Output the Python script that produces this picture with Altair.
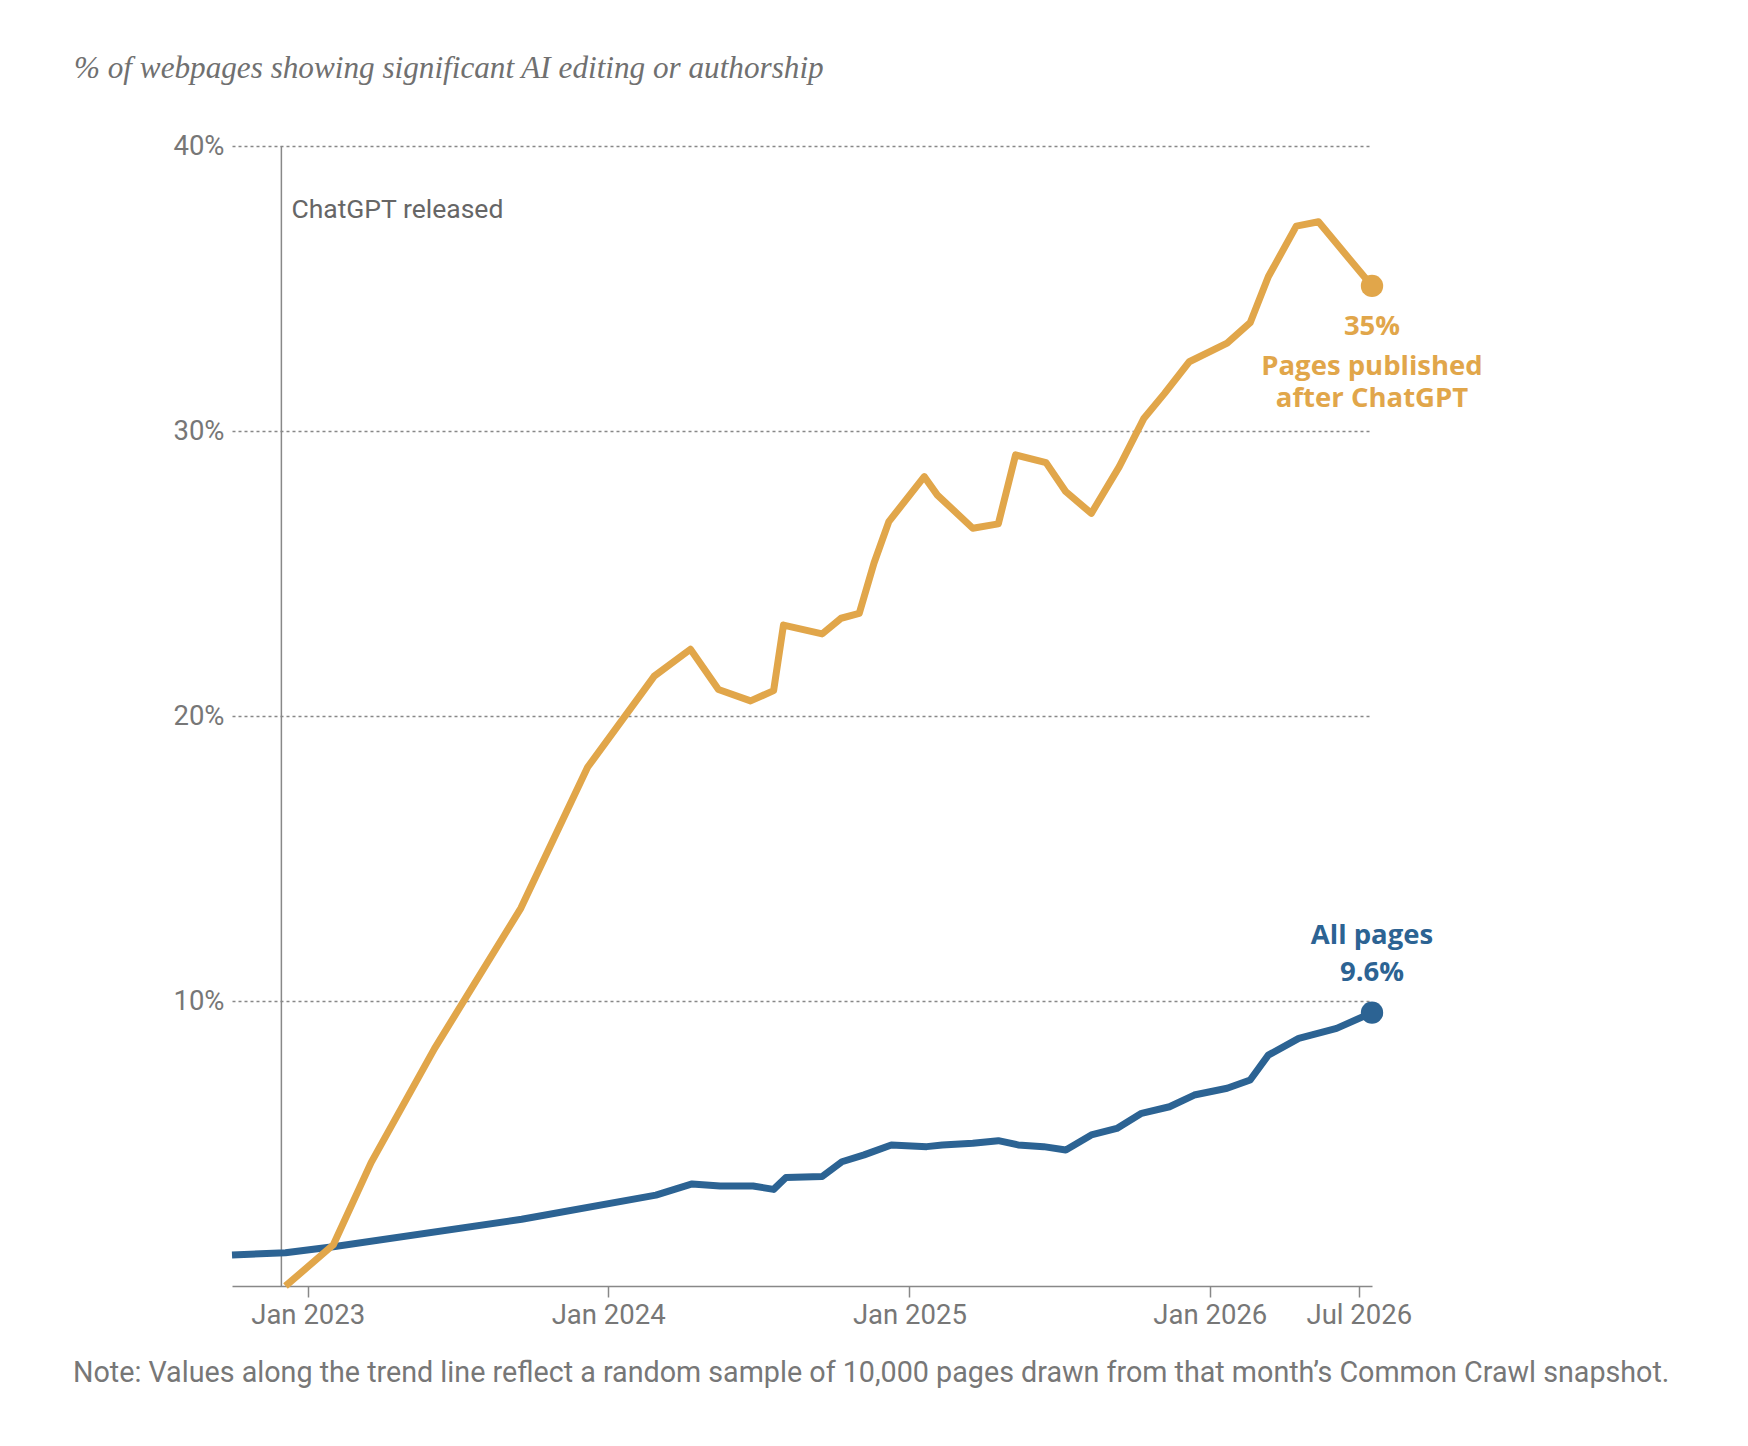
import altair as alt
import pandas as pd

title_text = "% of webpages showing significant AI editing or authorship"
note_text = ("Note: Values along the trend line reflect a random sample of 10,000 pages "
             "drawn from that month\u2019s Common Crawl snapshot.")

# All pages
all_dates = ["2022-10-01", "2022-12-05", "2023-02-01", "2023-09-18", "2024-02-28",
             "2024-04-12", "2024-05-16", "2024-06-25", "2024-07-20", "2024-08-04",
             "2024-09-17", "2024-10-11", "2024-11-07", "2024-12-10", "2025-01-22",
             "2025-02-10", "2025-03-19", "2025-04-19", "2025-05-13", "2025-06-13",
             "2025-07-10", "2025-08-10", "2025-09-10", "2025-10-10", "2025-11-13",
             "2025-12-13", "2026-01-22", "2026-02-19", "2026-03-13", "2026-04-19",
             "2026-06-04", "2026-07-17"]
all_values = [1.09, 1.17, 1.38, 2.34, 3.19,
              3.58, 3.51, 3.51, 3.39, 3.81,
              3.84, 4.36, 4.60, 4.95, 4.89,
              4.95, 5.01, 5.10, 4.95, 4.89,
              4.77, 5.30, 5.53, 6.06, 6.29,
              6.70, 6.94, 7.23, 8.10, 8.69,
              9.04, 9.59]

# Pages published after ChatGPT
after_dates = ["2022-12-05", "2023-02-01", "2023-03-19", "2023-06-04", "2023-09-17",
               "2023-12-07", "2024-02-26", "2024-04-10", "2024-05-14", "2024-06-22",
               "2024-07-20", "2024-08-01", "2024-09-17", "2024-10-10", "2024-11-01",
               "2024-11-19", "2024-12-07", "2025-01-19", "2025-02-04", "2025-03-19",
               "2025-04-19", "2025-05-10", "2025-06-16", "2025-07-10", "2025-08-10",
               "2025-09-13", "2025-10-13", "2025-11-07", "2025-12-07", "2026-01-22",
               "2026-02-19", "2026-03-13", "2026-04-16", "2026-05-13", "2026-06-07",
               "2026-07-17"]
after_values = [0.0, 1.44, 4.33, 8.33, 13.26,
                18.2, 21.4, 22.34, 20.93, 20.53,
                20.89, 23.19, 22.88, 23.43, 23.6,
                25.37, 26.82, 28.4, 27.75, 26.59,
                26.74, 29.16, 28.89, 27.87, 27.11,
                28.75, 30.45, 31.32, 32.43, 33.08,
                33.8, 35.41, 37.19, 37.34, 36.47,
                35.09]

release_date = "2022-11-30"
y_ticks = [10, 20, 30, 40]

ORANGE = "#E1A64A"
BLUE = "#2C6393"
GREY = "#777777"
SANS = "Roboto"
BOLD = "Open Sans"

df = pd.concat([
    pd.DataFrame({"date": all_dates, "value": all_values, "series": "All pages"}),
    pd.DataFrame({"date": after_dates, "value": after_values, "series": "After ChatGPT"}),
])
last = df.groupby("series").tail(1)
last_all = last[last["series"] == "All pages"]
last_after = last[last["series"] == "After ChatGPT"]

x_enc = alt.X(
    "date:T",
    scale=alt.Scale(type="utc", domain=[alt.DateTime(year=2022, month=10, date=1, utc=True),
                                        alt.DateTime(year=2026, month=7, date=17, utc=True)]),
    axis=alt.Axis(
        values=[alt.DateTime(year=2023, month=1, date=1, utc=True),
                alt.DateTime(year=2024, month=1, date=1, utc=True),
                alt.DateTime(year=2025, month=1, date=1, utc=True),
                alt.DateTime(year=2026, month=1, date=1, utc=True),
                alt.DateTime(year=2026, month=7, date=1, utc=True)],
        format="%b %Y", title=None, grid=False,
        domainColor="#888888", domainWidth=1.5,
        tickColor="#888888", tickWidth=1.5, tickSize=11,
        labelFont=SANS, labelFontSize=27.5, labelColor=GREY, labelPadding=4,
    ),
)
y_enc = alt.Y(
    "value:Q",
    scale=alt.Scale(domain=[0, 40], nice=False),
    axis=alt.Axis(
        values=y_ticks, labelExpr="datum.value + '%'", title=None,
        domain=False, ticks=False, grid=True,
        gridDash=[3, 3], gridColor="#888888", gridWidth=1.5,
        labelFont=SANS, labelFontSize=27.5, labelColor=GREY, labelPadding=8,
    ),
)
color_enc = alt.Color("series:N", scale=alt.Scale(domain=["All pages", "After ChatGPT"],
                                                  range=[BLUE, ORANGE]), legend=None)

lines = alt.Chart(df).mark_line(strokeWidth=7, strokeJoin="round").encode(
    x=x_enc, y=y_enc, color=color_enc, detail="series:N"
)
dots = alt.Chart(last).mark_circle(size=500, opacity=1).encode(
    x=x_enc, y=y_enc, color=color_enc
)

release = pd.DataFrame({"date": [release_date], "value": [40], "base": [0],
                        "label": ["ChatGPT released"]})
rule = alt.Chart(release).mark_rule(color="#888888", strokeWidth=1.5).encode(
    x=x_enc, y=y_enc, y2="base:Q"
)
release_text = alt.Chart(release).mark_text(
    align="left", baseline="middle", dx=10, dy=64, font=SANS, fontSize=26.5, color="#666666"
).encode(x=x_enc, y=y_enc, text="label:N")


def end_label(row, text, dy, color):
    # text may be a list of lines; it is then drawn as one multi-line label
    return alt.Chart(row).mark_text(
        text=text, align="center", baseline="alphabetic", dy=dy, lineHeight=31.7,
        font=BOLD, fontSize=27.5, fontWeight="bold", color=color
    ).encode(x=x_enc, y=y_enc)


labels = [
    end_label(last_after, "35%", 49, ORANGE),
    end_label(last_after, ["Pages published", "after ChatGPT"], 89, ORANGE),
    end_label(last_all, "All pages", -69, BLUE),
    end_label(last_all, "9.6%", -32, BLUE),
]

title = alt.Chart(pd.DataFrame({"label": [title_text]})).mark_text(
    align="left", baseline="alphabetic", font="Liberation Serif", fontStyle="italic",
    fontSize=31.2, color="#707070"
).encode(x=alt.value(-158), y=alt.value(-68), text="label:N")

note = alt.Chart(pd.DataFrame({"label": [note_text]})).mark_text(
    align="left", baseline="alphabetic", font=SANS, fontSize=28.7, color=GREY
).encode(x=alt.value(-159), y=alt.value(1236), text="label:N")

chart = alt.layer(rule, release_text, lines, dots, *labels, title, note).properties(
    width=1140, height=1140,
    autosize=alt.AutoSizeParams(type="none"),
    padding={"left": 224, "top": 138, "right": 340, "bottom": 150},
    background="white",
).configure_view(strokeWidth=0)

chart.save("out.html", embed_options={"renderer": "svg", "actions": False})
